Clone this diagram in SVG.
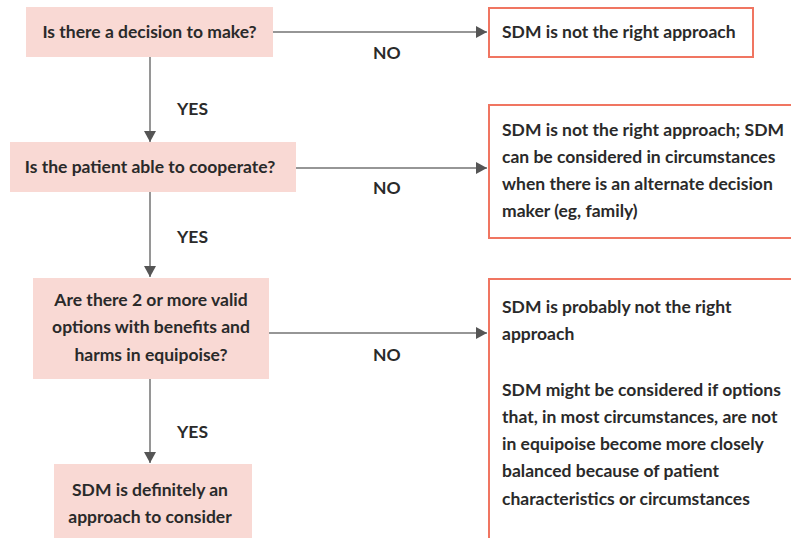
<svg xmlns="http://www.w3.org/2000/svg" width="791" height="538" viewBox="0 0 791 538">
<defs>
<style>
.q{fill:#f9d9d4;stroke:none}
.r{fill:#fff;stroke:#f07561;stroke-width:2}
.t{font-family:Lato,"Open Sans",sans-serif;font-weight:700;font-size:17.5px;fill:#2a2a2a}
.c{text-anchor:middle}
.e{stroke:#737373;stroke-width:1.5;fill:none}
</style>
<marker id="ah" markerWidth="12" markerHeight="12" refX="11" refY="6" orient="auto" markerUnits="userSpaceOnUse">
<path d="M0,0 L11,6 L0,12 Z" fill="#555"/>
</marker>
</defs>
<rect width="791" height="538" fill="#fff"/>
<g id="connectors">
<line class="e" x1="150" y1="57" x2="150" y2="142" marker-end="url(#ah)"/>
<line class="e" x1="150" y1="192" x2="150" y2="277" marker-end="url(#ah)"/>
<line class="e" x1="150" y1="379" x2="150" y2="463" marker-end="url(#ah)"/>
<line class="e" x1="273" y1="32" x2="487" y2="32" marker-end="url(#ah)"/>
<line class="e" x1="296" y1="168" x2="487" y2="168" marker-end="url(#ah)"/>
<line class="e" x1="269" y1="333" x2="487" y2="333" marker-end="url(#ah)"/>
<text class="t" x="177" y="115">YES</text>
<text class="t" x="177" y="243">YES</text>
<text class="t" x="177" y="438">YES</text>
<text class="t" x="373" y="59">NO</text>
<text class="t" x="373" y="194">NO</text>
<text class="t" x="373" y="361">NO</text>
</g>
<g id="q1">
<rect class="q" x="26" y="7" width="247" height="50"/>
<text class="t c" x="149.5" y="38">Is there a decision to make?</text>
</g>
<g id="q2">
<rect class="q" x="10" y="142" width="286" height="50"/>
<text class="t c" x="150" y="173">Is the patient able to cooperate?</text>
</g>
<g id="q3">
<rect class="q" x="33" y="278" width="236" height="101"/>
<text class="t c" x="151" y="306">Are there 2 or more valid</text>
<text class="t c" x="151" y="333">options with benefits and</text>
<text class="t c" x="151" y="361">harms in equipoise?</text>
</g>
<g id="q4">
<rect class="q" x="54" y="464" width="198" height="80"/>
<text class="t c" x="150" y="496">SDM is definitely an</text>
<text class="t c" x="150" y="523">approach to consider</text>
</g>
<g id="r1">
<rect class="r" x="489" y="8" width="264" height="49"/>
<text class="t" x="502" y="38">SDM is not the right approach</text>
</g>
<g id="r2">
<rect class="r" x="489" y="105" width="310" height="133"/>
<text class="t" x="502" y="136">SDM is not the right approach; SDM</text>
<text class="t" x="502" y="163">can be considered in circumstances</text>
<text class="t" x="502" y="190">when there is an alternate decision</text>
<text class="t" x="502" y="217">maker (eg, family)</text>
</g>
<g id="r3">
<rect class="r" x="489" y="279" width="310" height="270"/>
<text class="t" x="502" y="313">SDM is probably not the right</text>
<text class="t" x="502" y="340">approach</text>
<text class="t" x="502" y="396">SDM might be considered if options</text>
<text class="t" x="502" y="423">that, in most circumstances, are not</text>
<text class="t" x="502" y="450">in equipoise become more closely</text>
<text class="t" x="502" y="477">balanced because of patient</text>
<text class="t" x="502" y="505">characteristics or circumstances</text>
</g>
</svg>
